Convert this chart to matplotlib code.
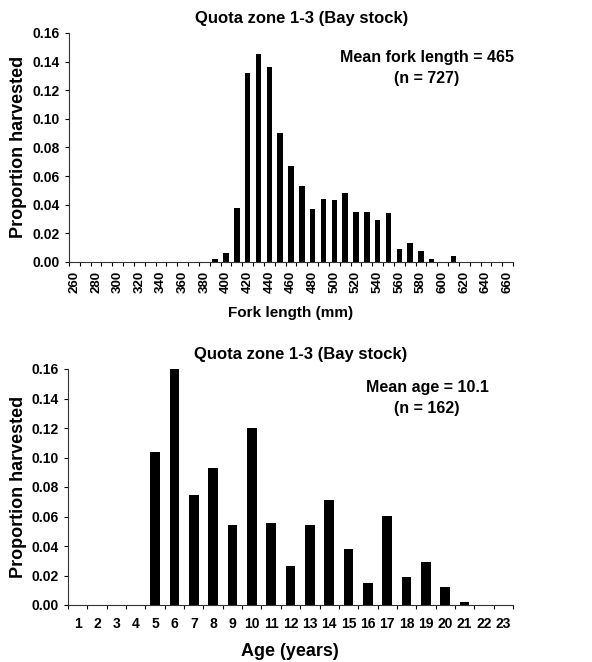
import numpy as np
import matplotlib
matplotlib.use("Agg")
from matplotlib import pyplot as plt

plt.rcParams["font.family"] = ["Liberation Sans", "DejaVu Sans"]
plt.rcParams["font.weight"] = "bold"

# Fork length classes (mm) and proportion harvested
length_bins = list(range(260, 661, 10))
length_prop = {
    390: 0.002, 400: 0.006, 410: 0.038, 420: 0.132, 430: 0.145,
    440: 0.136, 450: 0.090, 460: 0.067, 470: 0.053, 480: 0.037,
    490: 0.044, 500: 0.043, 510: 0.048, 520: 0.035, 530: 0.035,
    540: 0.029, 550: 0.034, 560: 0.009, 570: 0.013, 580: 0.008,
    590: 0.002, 600: 0.0, 610: 0.004,
}
length_title = "Quota zone 1-3 (Bay stock)"
length_note = "Mean fork length = 465\n(n = 727)"

# Age classes (years) and proportion harvested
ages = list(range(1, 24))
age_prop = [0, 0, 0, 0, 0.1035, 0.161, 0.0745, 0.0927, 0.054, 0.1202,
            0.0554, 0.0267, 0.054, 0.0712, 0.0377, 0.0151, 0.0603, 0.0188,
            0.0292, 0.0124, 0.0023, 0, 0]
age_title = "Quota zone 1-3 (Bay stock)"
age_note = "Mean age = 10.1\n(n = 162)"

W, H = 592, 662
fig = plt.figure(figsize=(W / 100, H / 100), dpi=100)


def style_axes(ax, n, label_fs, pad):
    for s in ("top", "right"):
        ax.spines[s].set_visible(False)
    for s in ("left", "bottom"):
        ax.spines[s].set_linewidth(0.8)
        ax.spines[s].set_color("#333333")
    ax.set_xlim(-0.5, n - 0.5)
    ax.set_ylim(0, 0.16)
    ax.set_yticks(np.arange(0, 0.161, 0.02))
    ax.set_yticklabels([f"{v:.2f}" for v in np.arange(0, 0.161, 0.02)])
    ax.tick_params(axis="y", direction="out", length=3, width=0.8,
                   labelsize=10, pad=3.5)
    ax.set_xticks(np.arange(-0.5, n, 1.0), minor=True)
    ax.tick_params(axis="x", which="minor", direction="out", length=3,
                   width=0.8)
    ax.tick_params(axis="x", which="major", length=0, labelsize=label_fs,
                   pad=pad)


# Fork length panel
ax1 = fig.add_axes([69 / W, 1 - 262 / H, 444 / W, 229 / H])
vals = [length_prop.get(b, 0.0) for b in length_bins]
x1 = np.arange(len(length_bins))
ax1.bar(x1, vals, width=0.5, color="black")
style_axes(ax1, len(length_bins), 9.5, 6.5)
ax1.set_xticks(x1[::2])
ax1.set_xticklabels([str(b) for b in length_bins[::2]], rotation=90)
fig.text(19 / W, 1 - 147 / H, "Proportion harvested", fontsize=13,
         rotation=90, ha="center", va="center", fontweight="bold")
fig.text(291 / W, 1 - 313 / H, "Fork length (mm)", fontsize=11,
         ha="center", va="center", fontweight="bold")
fig.text(302 / W, 1 - 18 / H, length_title, fontsize=12, ha="center",
         va="center", fontweight="bold")
fig.text(427 / W, 1 - 68 / H, length_note, fontsize=11.5, ha="center",
         va="center", fontweight="bold", linespacing=1.45)

# Age panel
ax2 = fig.add_axes([68 / W, 1 - 605 / H, 445 / W, 236 / H])
x2 = np.arange(len(ages))
ax2.bar(x2, age_prop, width=0.5, color="black")
style_axes(ax2, len(ages), 10, 9)
ax2.set_xticks(x2)
ax2.set_xticklabels([str(a) for a in ages])
fig.text(19 / W, 1 - 487 / H, "Proportion harvested", fontsize=13,
         rotation=90, ha="center", va="center", fontweight="bold")
fig.text(290 / W, 1 - 652 / H, "Age (years)", fontsize=13, ha="center",
         va="center", fontweight="bold")
fig.text(301 / W, 1 - 355 / H, age_title, fontsize=12, ha="center",
         va="center", fontweight="bold")
fig.text(427 / W, 1 - 398 / H, age_note, fontsize=11.5, ha="center",
         va="center", fontweight="bold", linespacing=1.45)

fig.savefig("out.png", dpi=100)
